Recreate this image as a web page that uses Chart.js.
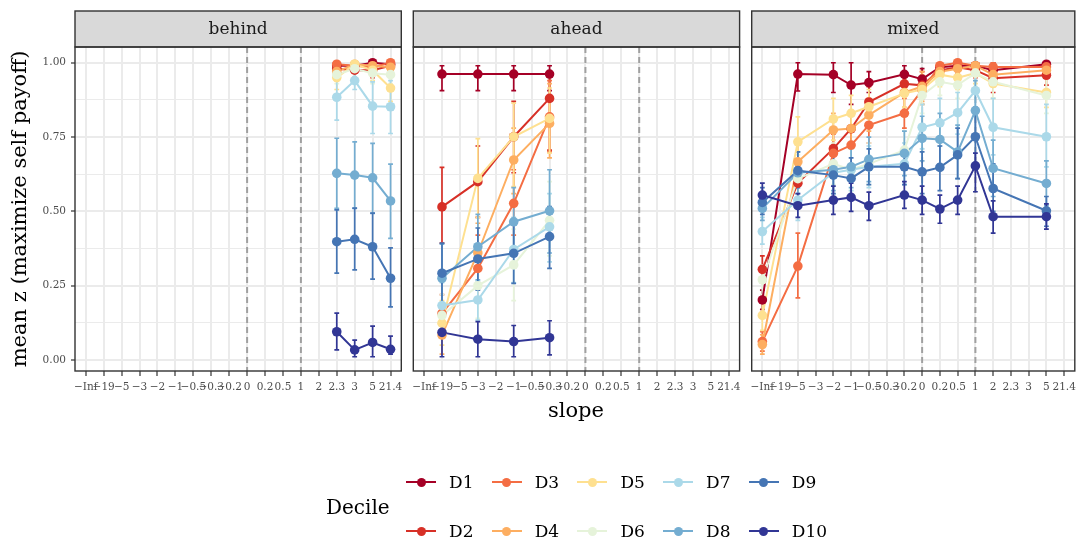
<!DOCTYPE html>
<html lang="en">

<head>
    <meta charset="UTF-8">
    <title>mean z by slope and decile</title>
    <script src="https://cdn.jsdelivr.net/npm/chart.js"></script>
    <style>
        body {
            margin: 0;
            width: 1081px;
            height: 543px;
            position: relative;
            overflow: hidden;
            background: #fff;
            font-family: "DejaVu Serif", serif;
        }

        canvas.panel {
            position: absolute;
            left: 0;
            top: 0;
        }

        #xtitle {
            position: absolute;
            left: 476px;
            width: 200px;
            top: 400px;
            text-align: center;
            font-size: 21px;
            line-height: 21px;
            color: #000;
        }

        #legendTitle {
            position: absolute;
            left: 326px;
            top: 495px;
            font-size: 20px;
            line-height: 24px;
            color: #000;
        }

        .key {
            position: absolute;
            height: 0;
        }

        .key .line {
            position: absolute;
            left: 0;
            top: -1px;
            width: 30px;
            height: 2px;
        }

        .key .dot {
            position: absolute;
            left: 10.5px;
            top: -4.5px;
            width: 9px;
            height: 9px;
            border-radius: 50%;
        }

        .key .lab {
            position: absolute;
            left: 43px;
            top: -11px;
            font-size: 17px;
            line-height: 22px;
            white-space: nowrap;
            color: #000;
        }
    </style>
</head>

<body>
    <canvas id="behind" class="panel" width="1081" height="543"></canvas>
    <canvas id="ahead" class="panel" width="1081" height="543"></canvas>
    <canvas id="mixed" class="panel" width="1081" height="543"></canvas>
    <div id="xtitle">slope</div>
    <div id="legendTitle">Decile</div>
    <div id="legend"></div>

    <script>
        // ---- data ----
        const slopeLabels = ['−Inf', '−19', '−5', '−3', '−2', '−1', '−0.5', '−0.3', '−0.2', '0', '0.2', '0.5', '1', '2', '2.3', '3', '5', '21.4'];
        const refSlopes = ['0', '1'];
        const facetNames = ['behind', 'ahead', 'mixed'];
        const deciles = ['D1', 'D2', 'D3', 'D4', 'D5', 'D6', 'D7', 'D8', 'D9', 'D10'];
        const decileColors = ['#a50026', '#d73027', '#f46d43', '#fdae61', '#fee090', '#e6f3da', '#abd9e9', '#74add1', '#4575b4', '#313695'];
        const yBreaks = [0, 0.25, 0.5, 0.75, 1];
        const yMinorBreaks = [0.125, 0.375, 0.625, 0.875];

        // behind
        const behindSlopes = ['2.3', '3', '5', '21.4'];
        const behindMean = [
            [0.99, 0.99, 1.0, 0.995],
            [0.98, 0.975, 0.975, 0.99],
            [0.995, 0.99, 0.985, 1.0],
            [0.97, 0.995, 0.99, 0.985],
            [0.95, 0.995, 0.975, 0.915],
            [0.96, 0.98, 0.965, 0.96],
            [0.884, 0.94, 0.854, 0.852],
            [0.628, 0.622, 0.613, 0.535],
            [0.398, 0.406, 0.381, 0.275],
            [0.095, 0.034, 0.059, 0.036]
        ];
        const behindLow = [
            [0.97, 0.975, 0.99, 0.985],
            [0.955, 0.95, 0.95, 0.97],
            [0.98, 0.97, 0.96, 0.99],
            [0.94, 0.98, 0.97, 0.96],
            [0.91, 0.98, 0.94, 0.87],
            [0.93, 0.95, 0.93, 0.93],
            [0.807, 0.91, 0.762, 0.762],
            [0.51, 0.51, 0.493, 0.409],
            [0.292, 0.303, 0.272, 0.179],
            [0.034, 0.011, 0.011, 0.02]
        ];
        const behindHigh = [
            [1, 1, 1, 1],
            [1, 1, 1, 1],
            [1, 1, 1, 1],
            [1, 1, 1, 1],
            [0.99, 1, 1, 0.96],
            [0.99, 1, 0.99, 0.99],
            [0.96, 0.97, 0.936, 0.94],
            [0.746, 0.734, 0.729, 0.659],
            [0.505, 0.511, 0.494, 0.377],
            [0.158, 0.067, 0.114, 0.08]
        ];

        // ahead
        const aheadSlopes = ['−19', '−3', '−1', '−0.3'];
        const aheadMean = [
            [0.962, 0.962, 0.962, 0.962],
            [0.515, 0.600, 0.751, 0.880],
            [0.157, 0.308, 0.527, 0.818],
            [0.084, 0.36, 0.673, 0.796],
            [0.124, 0.611, 0.751, 0.813],
            [0.15, 0.25, 0.32, 0.47],
            [0.183, 0.202, 0.372, 0.448],
            [0.275, 0.381, 0.465, 0.502],
            [0.292, 0.340, 0.359, 0.415],
            [0.093, 0.070, 0.062, 0.075]
        ];
        const aheadLow = [
            [0.906, 0.906, 0.906, 0.906],
            [0.393, 0.48, 0.63, 0.706],
            [0.09, 0.2, 0.42, 0.70],
            [0.02, 0.26, 0.56, 0.68],
            [0.05, 0.48, 0.583, 0.696],
            [0.08, 0.14, 0.2, 0.35],
            [0.10, 0.134, 0.26, 0.33],
            [0.16, 0.27, 0.35, 0.36],
            [0.175, 0.235, 0.258, 0.308],
            [0.011, 0.011, 0.011, 0.017]
        ];
        const aheadHigh = [
            [0.99, 0.99, 0.99, 0.99],
            [0.648, 0.72, 0.87, 0.96],
            [0.22, 0.42, 0.64, 0.94],
            [0.15, 0.46, 0.78, 0.93],
            [0.2, 0.745, 0.864, 0.915],
            [0.22, 0.36, 0.44, 0.6],
            [0.26, 0.266, 0.48, 0.56],
            [0.39, 0.49, 0.58, 0.64],
            [0.393, 0.444, 0.465, 0.516],
            [0.158, 0.129, 0.116, 0.132]
        ];

        // mixed
        const mixedSlopes = ['−Inf', '−5', '−2', '−1', '−0.5', '−0.2', '0', '0.2', '0.5', '1', '2', '5'];
        const mixedMean = [
            [0.202, 0.962, 0.960, 0.925, 0.933, 0.961, 0.945, 0.985, 0.99, 0.99, 0.975, 0.995],
            [0.305, 0.595, 0.711, 0.778, 0.868, 0.929, 0.924, 0.974, 0.985, 0.975, 0.948, 0.958],
            [0.062, 0.316, 0.695, 0.723, 0.790, 0.830, 0.908, 0.99, 1.0, 0.99, 0.986, 0.986],
            [0.052, 0.667, 0.774, 0.779, 0.824, 0.90, 0.92, 0.97, 0.98, 0.99, 0.96, 0.975],
            [0.15, 0.734, 0.811, 0.830, 0.852, 0.897, 0.91, 0.96, 0.95, 0.965, 0.93, 0.90],
            [0.27, 0.61, 0.66, 0.64, 0.66, 0.706, 0.89, 0.936, 0.925, 0.965, 0.936, 0.89],
            [0.432, 0.538, 0.63, 0.64, 0.65, 0.66, 0.783, 0.798, 0.832, 0.906, 0.783, 0.751],
            [0.51, 0.63, 0.64, 0.65, 0.675, 0.695, 0.746, 0.742, 0.70, 0.839, 0.645, 0.594],
            [0.53, 0.637, 0.622, 0.611, 0.650, 0.650, 0.633, 0.648, 0.69, 0.751, 0.577, 0.502],
            [0.555, 0.519, 0.538, 0.547, 0.519, 0.555, 0.538, 0.508, 0.538, 0.653, 0.482, 0.482]
        ];
        const mixedLow = [
            [0.17, 0.905, 0.90, 0.86, 0.90, 0.93, 0.91, 0.97, 0.975, 0.975, 0.95, 0.98],
            [0.26, 0.54, 0.65, 0.72, 0.82, 0.89, 0.88, 0.95, 0.965, 0.95, 0.90, 0.925],
            [0.03, 0.209, 0.63, 0.66, 0.73, 0.78, 0.86, 0.97, 0.99, 0.97, 0.96, 0.96],
            [0.02, 0.60, 0.72, 0.72, 0.77, 0.85, 0.87, 0.94, 0.96, 0.97, 0.92, 0.95],
            [0.10, 0.629, 0.74, 0.77, 0.79, 0.85, 0.86, 0.92, 0.91, 0.93, 0.88, 0.85],
            [0.22, 0.53, 0.59, 0.57, 0.59, 0.64, 0.83, 0.89, 0.88, 0.92, 0.88, 0.83],
            [0.39, 0.47, 0.56, 0.57, 0.58, 0.59, 0.71, 0.72, 0.76, 0.82, 0.69, 0.65],
            [0.47, 0.56, 0.57, 0.58, 0.60, 0.62, 0.67, 0.66, 0.61, 0.74, 0.55, 0.52],
            [0.49, 0.58, 0.56, 0.55, 0.59, 0.59, 0.56, 0.57, 0.61, 0.65, 0.50, 0.45],
            [0.516, 0.48, 0.49, 0.50, 0.47, 0.51, 0.49, 0.46, 0.49, 0.566, 0.427, 0.44]
        ];
        const mixedHigh = [
            [0.235, 1.0, 1.0, 1.0, 0.97, 0.99, 0.98, 1.0, 1.0, 1.0, 1.0, 1.0],
            [0.35, 0.65, 0.77, 0.83, 0.92, 0.97, 0.97, 1.0, 1.0, 1.0, 0.99, 0.99],
            [0.095, 0.427, 0.76, 0.79, 0.85, 0.88, 0.95, 1.0, 1.0, 1.0, 1.0, 1.0],
            [0.085, 0.73, 0.83, 0.84, 0.88, 0.95, 0.97, 1.0, 1.0, 1.0, 0.99, 1.0],
            [0.20, 0.818, 0.88, 0.89, 0.91, 0.94, 0.96, 0.99, 0.99, 1.0, 0.98, 0.95],
            [0.32, 0.69, 0.73, 0.71, 0.73, 0.77, 0.95, 0.98, 0.97, 1.0, 0.99, 0.95],
            [0.48, 0.61, 0.70, 0.71, 0.72, 0.73, 0.86, 0.88, 0.90, 0.99, 0.88, 0.86],
            [0.55, 0.70, 0.71, 0.72, 0.75, 0.77, 0.82, 0.83, 0.79, 0.94, 0.74, 0.67],
            [0.58, 0.70, 0.69, 0.68, 0.71, 0.71, 0.70, 0.72, 0.78, 0.85, 0.66, 0.55],
            [0.595, 0.56, 0.585, 0.595, 0.565, 0.60, 0.585, 0.555, 0.585, 0.696, 0.535, 0.525]
        ];

        // ---- layout (ggplot-like facets, one canvas per panel) ----
        const panelLeft = [75, 413.3, 751.7];
        const panelWidth = 326.3;
        const panelTop = 47;
        const panelBottom = 371;
        const stripTop = 11;
        const xAxisHeight = 30;
        const yMin = -0.037, yMax = 1.053;

        Chart.defaults.font.family = "'DejaVu Serif', serif";

        const panelData = {};
        const isMajor = v => yBreaks.some(b => Math.abs(b - v) < 1e-9);
        const slopeIndex = s => slopeLabels.indexOf(s);

        // error bars + dashed reference lines, under the lines and points
        const errorBars = {
            id: 'errorBars',
            beforeDatasetsDraw(chart) {
                const p = panelData[chart.canvas.id];
                const { ctx, chartArea, scales: { x, y } } = chart;
                ctx.save();
                ctx.beginPath();
                ctx.rect(chartArea.left, chartArea.top, chartArea.width, chartArea.height);
                ctx.clip();

                ctx.strokeStyle = '#a0a0a0';
                ctx.lineWidth = 2;
                ctx.setLineDash([6, 4]);
                refSlopes.forEach(s => {
                    const px = x.getPixelForValue(slopeIndex(s));
                    ctx.beginPath();
                    ctx.moveTo(px, chartArea.top);
                    ctx.lineTo(px, chartArea.bottom);
                    ctx.stroke();
                });
                ctx.setLineDash([]);

                ctx.lineWidth = 1.7;
                p.low.forEach((row, d) => {
                    ctx.strokeStyle = decileColors[d];
                    row.forEach((lo, j) => {
                        const px = x.getPixelForValue(slopeIndex(p.slopes[j]));
                        const top = y.getPixelForValue(p.high[d][j]);
                        const bot = y.getPixelForValue(lo);
                        ctx.beginPath();
                        ctx.moveTo(px, top); ctx.lineTo(px, bot);
                        ctx.moveTo(px - 2.4, top); ctx.lineTo(px + 2.4, top);
                        ctx.moveTo(px - 2.4, bot); ctx.lineTo(px + 2.4, bot);
                        ctx.stroke();
                    });
                });
                ctx.restore();
            }
        };

        // panel border and facet strip
        const facetFrame = {
            id: 'facetFrame',
            afterDraw(chart) {
                const { ctx, chartArea } = chart;
                const name = chart.canvas.id;
                ctx.save();
                ctx.fillStyle = '#d9d9d9';
                ctx.fillRect(chartArea.left, stripTop, chartArea.width, chartArea.top - stripTop);
                ctx.strokeStyle = '#333333';
                ctx.lineWidth = 1.4;
                ctx.strokeRect(chartArea.left, stripTop, chartArea.width, chartArea.top - stripTop);
                ctx.strokeRect(chartArea.left, chartArea.top, chartArea.width, chartArea.height);
                ctx.fillStyle = '#1a1a1a';
                ctx.font = "17px 'DejaVu Serif'";
                ctx.textAlign = 'center';
                ctx.textBaseline = 'middle';
                ctx.fillText(name, (chartArea.left + chartArea.right) / 2, (stripTop + chartArea.top) / 2 + 1);
                ctx.restore();
            }
        };

        function makePanel(k, slopes, mean, low, high) {
            const id = facetNames[k];
            panelData[id] = { slopes: slopes, low: low, high: high };
            const yWidth = k === 0 ? 75 : 0;

            const datasets = [];
            mean.forEach((row, d) => {
                const pts = row.map((v, j) => ({ x: slopeIndex(slopes[j]), y: v }));
                // lines first (higher order = drawn earlier), points on top
                datasets.push({
                    label: deciles[d], data: pts, borderColor: decileColors[d], borderWidth: 2,
                    pointRadius: 0, tension: 0, order: 30 - d
                });
                datasets.push({
                    label: deciles[d], data: pts, showLine: false, pointRadius: 4.8,
                    pointBackgroundColor: decileColors[d], pointBorderWidth: 0, order: 10 - d
                });
            });

            return new Chart(document.getElementById(id), {
                type: 'line',
                data: { datasets: datasets },
                options: {
                    responsive: false,
                    devicePixelRatio: 1,
                    animation: false,
                    events: [],
                    layout: {
                        padding: {
                            left: panelLeft[k] - yWidth,
                            right: 1081 - panelLeft[k] - panelWidth,
                            top: panelTop,
                            bottom: 543 - panelBottom - xAxisHeight
                        }
                    },
                    plugins: { legend: { display: false }, tooltip: { enabled: false } },
                    scales: {
                        x: {
                            type: 'linear',
                            min: -0.6,
                            max: slopeLabels.length - 0.4,
                            afterBuildTicks: s => { s.ticks = slopeLabels.map((_, i) => ({ value: i })); },
                            afterFit: s => { s.height = xAxisHeight; },
                            border: { display: false },
                            grid: { color: '#ebebeb', lineWidth: 2, tickColor: '#333333', tickLength: 5, tickWidth: 1.2 },
                            ticks: {
                                autoSkip: false, maxRotation: 0, minRotation: 0, padding: 5,
                                color: '#4d4d4d', font: { size: 10.5 },
                                callback: v => slopeLabels[v]
                            }
                        },
                        y: {
                            type: 'linear',
                            min: yMin,
                            max: yMax,
                            afterBuildTicks: s => {
                                s.ticks = yBreaks.concat(yMinorBreaks).sort((a, b) => a - b).map(v => ({ value: v }));
                            },
                            afterFit: s => { s.width = yWidth; },
                            border: { display: false },
                            grid: {
                                color: '#ebebeb',
                                lineWidth: c => (c.tick && isMajor(c.tick.value)) ? 2 : 1,
                                tickColor: c => (c.tick && isMajor(c.tick.value)) ? '#333333' : 'rgba(0,0,0,0)',
                                tickLength: 4,
                                tickWidth: 1.2,
                                drawTicks: k === 0
                            },
                            ticks: {
                                display: k === 0, padding: 5, color: '#4d4d4d', font: { size: 10.5 },
                                callback: v => isMajor(v) ? v.toFixed(2) : ''
                            },
                            title: {
                                display: k === 0,
                                text: 'mean z (maximize self payoff)',
                                color: '#000', font: { size: 21 },
                                padding: { top: 8, bottom: 0 }
                            }
                        }
                    }
                },
                plugins: [errorBars, facetFrame]
            });
        }

        makePanel(0, behindSlopes, behindMean, behindLow, behindHigh);
        makePanel(1, aheadSlopes, aheadMean, aheadLow, aheadHigh);
        makePanel(2, mixedSlopes, mixedMean, mixedLow, mixedHigh);

        // legend: two rows, filled column by column
        const legend = document.getElementById('legend');
        deciles.forEach((name, i) => {
            const col = Math.floor(i / 2), row = i % 2;
            const item = document.createElement('div');
            item.className = 'key';
            item.style.left = (406 + col * 85.7) + 'px';
            item.style.top = (row ? 531 : 482) + 'px';
            item.innerHTML = '<span class="line" style="background:' + decileColors[i] + '"></span>' +
                '<span class="dot" style="background:' + decileColors[i] + '"></span>' +
                '<span class="lab">' + name + '</span>';
            legend.appendChild(item);
        });
    </script>
</body>

</html>
